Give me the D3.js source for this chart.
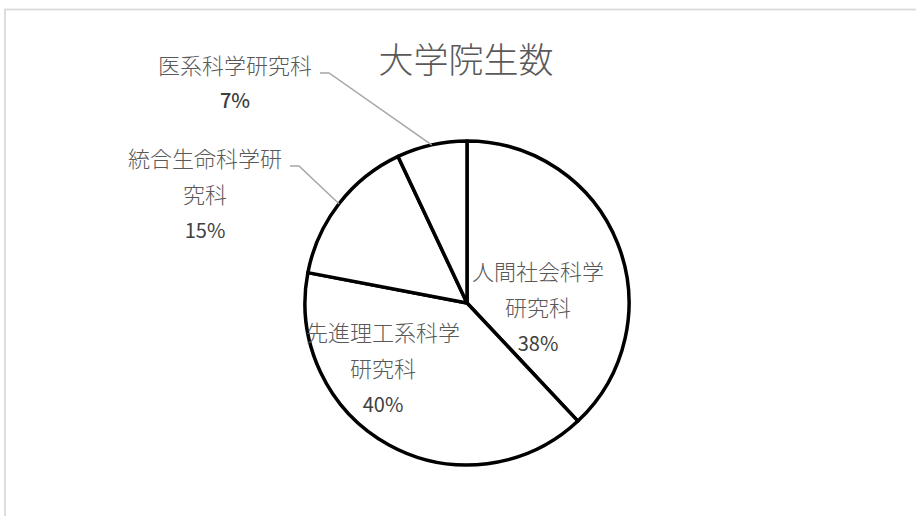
<!DOCTYPE html>
<html>
<head>
<meta charset="utf-8">
<script src="https://cdn.jsdelivr.net/npm/d3@7"></script>
<style>
  body { margin: 0; background: #fff; }
  svg text { font-family: "Noto Sans CJK JP", "Noto Sans", sans-serif; }
</style>
</head>
<body>
<svg id="chart" width="916" height="516"></svg>
<script>
// data
var categories = ['人間社会科学研究科', '先進理工系科学研究科', '統合生命科学研究科', '医系科学研究科'];
var shares = [38, 40, 15, 7];
// how each label is broken into lines (as Excel wrapped them)
var labelLines = [['人間社会科学', '研究科'], ['先進理工系科学', '研究科'], ['統合生命科学研', '究科'], ['医系科学研究科']];
var title = '大学院生数';

// layout
var W = 916, H = 516;
var cx = 467, cy = 303, radius = 162;
var lineGap = 36;
var labelSize = 22;
// label block centres (first line), relative to the pie centre
var labelPos = [[71, -33], [-84, 28], [-262, -146], [-232, -239]];
var outside = [false, false, true, true];

var svg = d3.select('#chart');

// chart area border (runs off the right / bottom edge)
svg.append('rect')
  .attr('x', 5).attr('y', 9.5)
  .attr('width', W + 20).attr('height', H + 20)
  .attr('fill', 'none').attr('stroke', '#d9d9d9').attr('stroke-width', 1.75);

svg.append('text')
  .attr('x', 466).attr('y', 57)
  .attr('text-anchor', 'middle').attr('dominant-baseline', 'central')
  .attr('font-size', 35).attr('font-weight', 300).attr('fill', '#595959')
  .text(title);

var pie = d3.pie().sort(null).value(function(d){ return d; });
var arcs = pie(shares);
var arc = d3.arc().innerRadius(0).outerRadius(radius);
var edge = d3.arc().innerRadius(radius).outerRadius(radius);

var g = svg.append('g').attr('transform', 'translate(' + cx + ',' + cy + ')');

g.selectAll('path.slice')
  .data(arcs)
  .enter().append('path')
  .attr('class', 'slice')
  .attr('d', arc)
  .attr('fill', '#fff')
  .attr('stroke', '#000')
  .attr('stroke-width', 3.5)
  .attr('stroke-linejoin', 'round');

// leader lines for the labels sitting outside the pie
arcs.forEach(function(a, i){
  if(!outside[i]) return;
  var p = edge.centroid(a);
  var lx = labelPos[i][0], ly = labelPos[i][1];
  var firstLineHalf = labelLines[i][0].length * labelSize / 2;
  var sx = lx + firstLineHalf + 8, sy = ly + 9;
  g.append('polyline')
    .attr('points', [[sx, sy], [sx + 9, sy], [p[0], p[1]]].map(function(q){ return q.join(','); }).join(' '))
    .attr('fill', 'none').attr('stroke', '#a6a6a6').attr('stroke-width', 1.5);
});

// labels: name lines + percentage
arcs.forEach(function(a, i){
  var lines = labelLines[i];
  var t = g.append('g').attr('transform', 'translate(' + labelPos[i][0] + ',' + labelPos[i][1] + ')');
  lines.forEach(function(s, k){
    t.append('text')
      .attr('x', 0).attr('y', k * lineGap)
      .attr('text-anchor', 'middle').attr('dominant-baseline', 'central')
      .attr('font-size', labelSize).attr('font-weight', 300).attr('fill', '#595959')
      .text(s);
  });
  t.append('text')
    .attr('x', 0).attr('y', lines.length * lineGap - (lines.length === 1 ? 1 : 0))
    .attr('text-anchor', 'middle').attr('dominant-baseline', 'central')
    .attr('font-size', 20).attr('fill', '#404040')
    .attr('font-weight', shares[i] < 10 ? 500 : 400)
    .text(Math.round(a.data) + '%');
});
</script>
</body>
</html>
